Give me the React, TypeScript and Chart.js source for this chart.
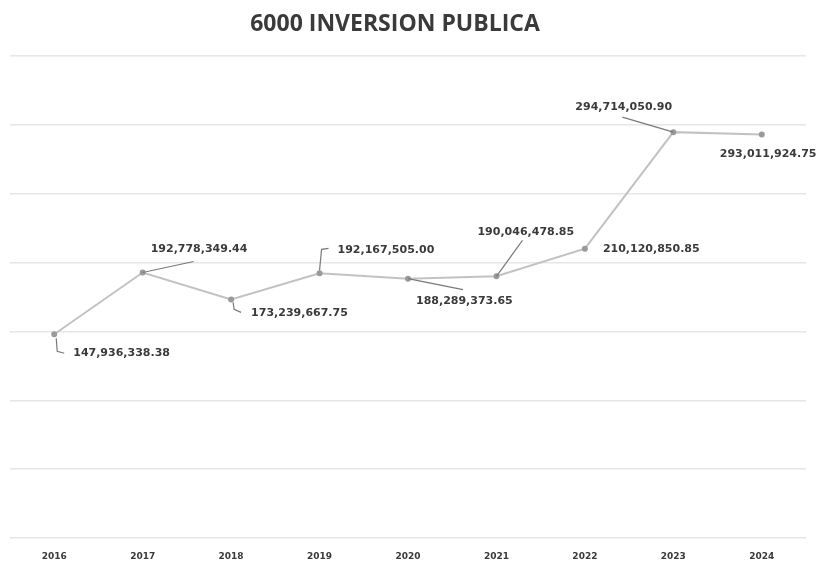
import React, { useEffect, useRef } from "react";
import { Chart, registerables } from "chart.js";

Chart.register(...registerables);

const TITLE = "6000 INVERSION PUBLICA";
const YEARS = ["2016", "2017", "2018", "2019", "2020", "2021", "2022", "2023", "2024"];
const VALUES = [
  147936338.38, 192778349.44, 173239667.75, 192167505.0, 188289373.65,
  190046478.85, 210120850.85, 294714050.9, 293011924.75,
];
const Y_MIN = 0;
const Y_MAX = 350000000;
const Y_STEP = 50000000;

// label placement (style): text offset from the point and leader polyline offsets
const LABEL_OFFSETS: { dx: number; dy: number; leader: number[][] }[] = [
  { dx: 19, dy: 19, leader: [[2, 4], [3, 17], [10, 19]] },
  { dx: 8, dy: -23, leader: [[0, 0], [51, -11]] },
  { dx: 20, dy: 14, leader: [[2, 3], [3, 10], [10, 13]] },
  { dx: 18, dy: -23, leader: [[0, -3], [2, -24], [9, -25]] },
  { dx: 8, dy: 22, leader: [[0, 0], [55, 11]] },
  { dx: -19, dy: -44, leader: [[0, 0], [26, -36]] },
  { dx: 18, dy: 1, leader: [] },
  { dx: -98, dy: -25, leader: [[0, 0], [-51, -15]] },
  { dx: -42, dy: 20, leader: [] },
];

const fmt = (v: number) =>
  v.toLocaleString("en-US", { minimumFractionDigits: 2, maximumFractionDigits: 2 });

const labelPlugin = {
  id: "dataLabelsLeader",
  afterDatasetsDraw(chart: any) {
    const ctx = chart.ctx;
    const meta = chart.getDatasetMeta(0);
    ctx.save();
    meta.data.forEach((pt: any, i: number) => {
      const o = LABEL_OFFSETS[i];
      if (!o) return;
      if (o.leader.length > 1) {
        ctx.beginPath();
        ctx.strokeStyle = "#7a7a7a";
        ctx.lineWidth = 1.2;
        o.leader.forEach((p, j) => {
          if (j === 0) ctx.moveTo(pt.x + p[0], pt.y + p[1]);
          else ctx.lineTo(pt.x + p[0], pt.y + p[1]);
        });
        ctx.stroke();
      }
      ctx.fillStyle = "#3a3a3a";
      ctx.font = "bold 11px 'DejaVu Sans'";
      ctx.textAlign = "left";
      ctx.textBaseline = "middle";
      ctx.fillText(fmt(VALUES[i]), pt.x + o.dx, pt.y + o.dy);
    });
    ctx.restore();
  },
  afterDraw(chart: any) {
    const ctx = chart.ctx;
    ctx.save();
    ctx.fillStyle = "#3a3a3a";
    ctx.font = "bold 23px 'Open Sans'";
    ctx.textAlign = "center";
    ctx.textBaseline = "middle";
    ctx.fillText(TITLE, 395, 24);
    ctx.restore();
  },
};

export default function App() {
  const ref = useRef<HTMLCanvasElement | null>(null);
  useEffect(() => {
    document.body.style.margin = "0";
    const c = ref.current;
    if (!c) return;
    const chart = new Chart(c, {
      type: "line",
      data: {
        labels: YEARS,
        datasets: [
          {
            data: VALUES,
            borderColor: "#c2c2c2",
            borderWidth: 2,
            pointRadius: 2,
            pointBackgroundColor: "#9a9a9a",
            pointBorderColor: "#9a9a9a",
            tension: 0,
          },
        ],
      },
      options: {
        responsive: false,
        animation: false,
        layout: { padding: { top: 56, left: 10, right: 11, bottom: 1 } },
        plugins: { legend: { display: false }, title: { display: false }, tooltip: { enabled: false } },
        scales: {
          x: {
            offset: true,
            grid: { display: false, drawTicks: true, tickLength: 8 },
            border: { display: false },
            ticks: { color: "#3a3a3a", font: { family: "'DejaVu Sans'", size: 9, weight: "bold" }, padding: 5.6, maxRotation: 0 },
          },
          y: {
            min: Y_MIN,
            max: Y_MAX,
            ticks: { display: false, stepSize: Y_STEP },
            grid: { color: "#e6e6e6", lineWidth: 1.5, drawTicks: false },
            border: { display: false },
          },
        },
      },
      plugins: [labelPlugin],
    });
    return () => chart.destroy();
  }, []);
  return (
    <div style={{ position: "fixed", left: 0, top: 0, width: 817, height: 569, background: "#fff" }}>
      <canvas ref={ref} width={817} height={569} />
    </div>
  );
}
